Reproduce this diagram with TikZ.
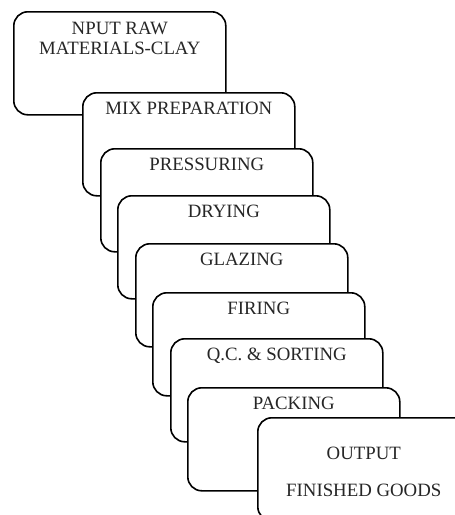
\documentclass[tikz,border=0pt]{standalone}
\usepackage{fontspec}
\setmainfont{Liberation Serif}
\begin{document}
\begin{tikzpicture}[x=1pt,y=-1pt,
  stepbox/.style={draw=black, line width=1.6pt, fill=white, rounded corners=14pt,
    minimum width=212pt, minimum height=103pt, inner sep=0pt, anchor=north west},
  lbl/.style={anchor=north, inner sep=0pt, yshift=-10pt, font=\fontsize{18.8}{20}\selectfont, text=black!85, align=center}
]
\useasboundingbox (0,0) rectangle (455,515);
\begin{scope}
\clip (0,0) rectangle (455,515);
\node[stepbox, label={[lbl, yshift=-1pt]north:NPUT RAW\\MATERIALS-CLAY}] (b1) at (13,11) {};
\node[stepbox, label={[lbl]north:MIX PREPARATION}] (b2) at (82,92) {};
\node[stepbox, label={[lbl]north:PRESSURING}] (b3) at (100,148) {};
\node[stepbox, label={[lbl]north:DRYING}] (b4) at (117,195) {};
\node[stepbox, label={[lbl]north:GLAZING}] (b5) at (135,243) {};
\node[stepbox, label={[lbl]north:FIRING}] (b6) at (152,292) {};
\node[stepbox, label={[lbl]north:Q.C. \& SORTING}] (b7) at (170,338) {};
\node[stepbox, label={[lbl]north:PACKING}] (b8) at (187,387) {};
\node[stepbox, label={[lbl, yshift=-20pt, font=\fontsize{18.8}{37}\selectfont]north:OUTPUT\\FINISHED GOODS}] (b9) at (257,417) {};
\end{scope}
\end{tikzpicture}
\end{document}
